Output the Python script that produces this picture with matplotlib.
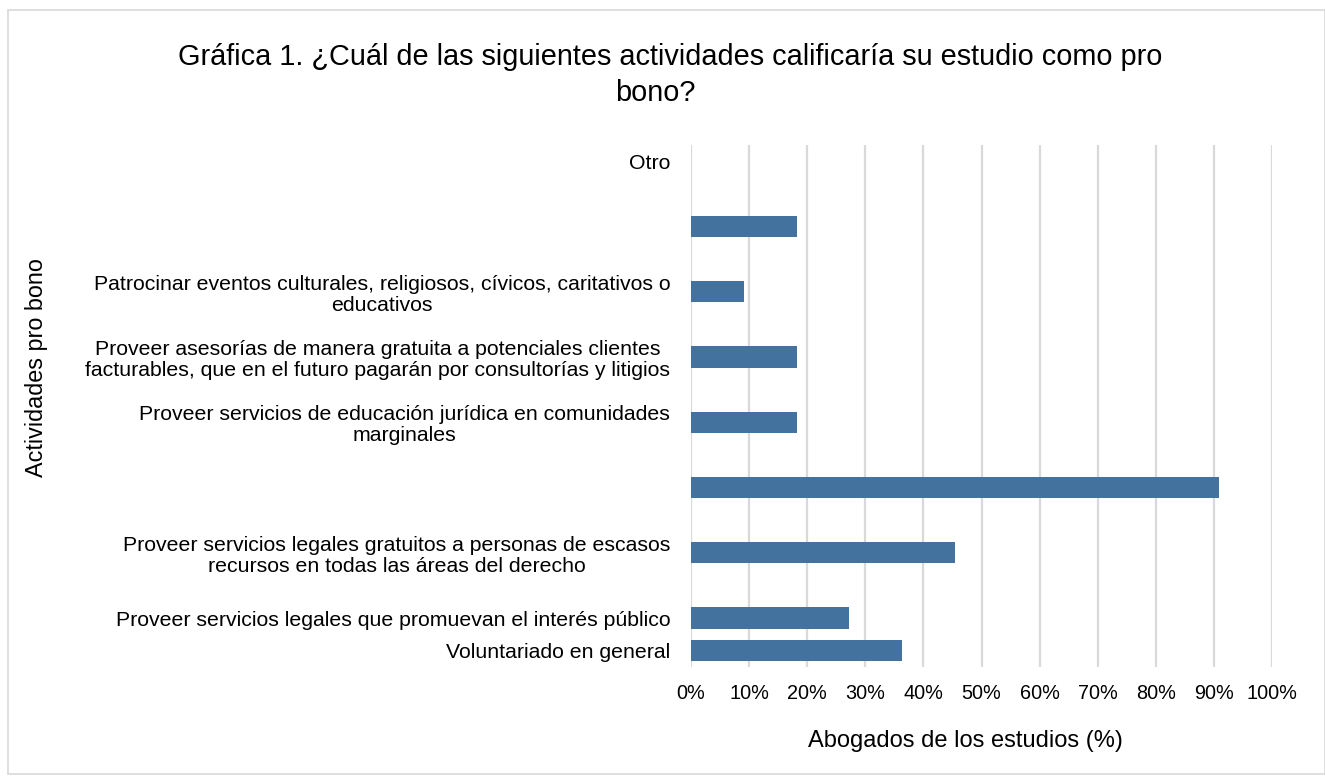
import matplotlib
matplotlib.use("Agg")
import matplotlib.pyplot as plt
from matplotlib.patches import Rectangle

plt.rcParams['font.family'] = ['Liberation Sans', 'DejaVu Sans']

# Categories bottom-to-top (blank slots kept as in the original chart)
categories = [
    "Voluntariado en general",
    "Proveer servicios legales que promuevan el interés público",
    "",
    "Proveer servicios legales gratuitos a personas de escasos\nrecursos en todas las áreas del derecho",
    "",
    "",
    "",
    "Proveer servicios de educación jurídica en comunidades\nmarginales",
    "",
    "Proveer asesorías de manera gratuita a potenciales clientes\nfacturables, que en el futuro pagarán por consultorías y litigios",
    "",
    "Patrocinar eventos culturales, religiosos, cívicos, caritativos o\neducativos",
    "",
    "",
    "",
    "Otro",
]
values = [36.36, 27.27, 0, 45.45, 0, 90.91, 0, 18.18, 0, 18.18, 0, 9.09, 0, 18.18, 0, 0]
xticks = [0, 10, 20, 30, 40, 50, 60, 70, 80, 90, 100]
xtick_labels = [f"{v}%" for v in xticks]

fig = plt.figure(figsize=(13.25, 7.76), dpi=100)
fig.patches.append(Rectangle((8/1325, 1-774/776), 1317/1325, 764/776, transform=fig.transFigure,
                             fill=False, edgecolor='#d9d9d9', linewidth=1.2))

ax = fig.add_axes([691/1325, 1-667/776, 581/1325, 522/776])
ypos = list(range(len(categories)))
ax.barh(ypos, values, height=0.65, color='#44729f', linewidth=0, zorder=3)

ax.set_xlim(0, 100)
ax.set_ylim(-0.5, 15.5)
ax.set_xticks(xticks)
ax.set_xticklabels(xtick_labels, fontsize=14.3)
ax.set_yticks(ypos)
ax.set_yticklabels(categories, fontsize=15.3)
for t in ax.get_yticklabels():
    t.set_multialignment('center')
    t.set_linespacing(1.12)
ax.tick_params(axis='both', length=0)
ax.tick_params(axis='y', pad=15)
ax.tick_params(axis='x', pad=12)
ax.grid(axis='x', color='#d9d9d9', linewidth=1.6, zorder=0)
for s in ax.spines.values():
    s.set_visible(False)

fig.text(670/1325, 1-57/776, "Gráfica 1. ¿Cuál de las siguientes actividades calificaría su estudio como pro",
         ha='center', va='center', fontsize=20.8)
fig.text(655/1325, 1-93/776, "bono?", ha='center', va='center', fontsize=20.8)
fig.text(965/1325, 1-741/776, "Abogados de los estudios (%)", ha='center', va='center', fontsize=17)
fig.text(37/1325, 1-368/776, "Actividades pro bono", ha='center', va='center', rotation=90, fontsize=16.8)

fig.savefig("out.png", dpi=100)
